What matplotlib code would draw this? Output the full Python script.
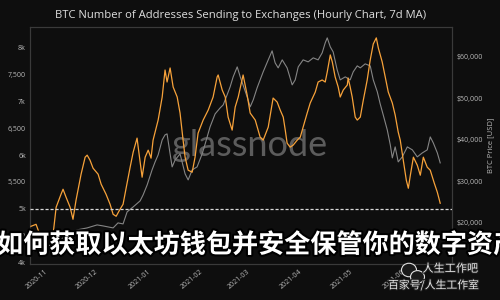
import matplotlib
matplotlib.use("Agg")
import matplotlib.pyplot as plt
import matplotlib.dates as mdates
import matplotlib.patheffects as pe
from matplotlib.patches import Ellipse
from matplotlib.ticker import FuncFormatter, FixedLocator
import pandas as pd

# ---------------- data ----------------
start = pd.Timestamp("2020-11-01")

# days after 2020-11-01, number of addresses sending to exchanges (7d MA)
addr_days = [-10.7, -7.7, -4.7, -1.8, 0.6, 1.8, 4.2, 7.1, 8.3, 10.1, 12.5, 14.2, 16.0, 19.0,
             21.4, 22.6, 24.3, 26.1, 29.1, 30.9, 33.8, 36.2, 38.0, 39.8, 42.1, 43.9, 45.7,
             48.1, 49.9, 52.2, 52.8, 55.2, 57.0, 58.8, 60.5, 61.7, 64.7, 67.1, 68.8, 70.0,
             71.8, 73.6, 76.0, 77.7, 79.5, 80.7, 82.5, 84.9, 86.6, 88.4, 91.4, 94.4, 97.3,
             99.7, 100.3, 102.7, 104.5, 106.2, 108.6, 110.4, 112.2, 115.1, 117.5, 119.3,
             122.3, 125.2, 127.0, 130.0, 132.9, 135.3, 137.1, 138.9, 140.1, 141.2, 143.0,
             144.8, 147.2, 149.0, 150.7, 153.1, 154.9, 157.9, 159.6, 162.0, 163.8, 165.0,
             166.8, 168.0, 169.7, 171.5, 172.7, 174.5, 176.9, 177.4, 178.6, 179.8, 181.6,
             182.8, 184.6, 186.4, 188.7, 190.5, 192.3, 194.1, 195.3, 197.6, 199.4, 201.2,
             203.6, 205.3, 207.1, 208.3, 210.1, 211.9, 213.1, 214.3, 216.1, 218.4, 220.2,
             222.0, 224.3, 226.1, 228.5, 230.3, 232.0]
addr_vals = [4673, 4710, 4449, 4299, 4262, 4355, 5028, 5271, 5364, 5215, 5028, 4804, 5159, 5645,
             5962, 6000, 5906, 5757, 5645, 5458, 5271, 5084, 4897, 4860, 4991, 5084, 5383,
             5776, 6056, 6318, 6168, 5589, 5962, 6093, 5944, 6280, 6654, 7084, 7588, 7364,
             7626, 7271, 7084, 6785, 6280, 5962, 5719, 5682, 5962, 6411, 6654, 6841, 7084,
             7458, 7495, 7215, 7084, 6710, 6467, 6897, 7084, 7495, 7121, 6785,
             6654, 6336, 6280, 6523, 7065, 6990, 6841, 6710, 6467, 6224, 6149,
             6187, 6280, 6336, 6523, 6785, 6972, 7177, 7364, 7402, 7364, 7551,
             7869, 7738, 7458, 7271, 7084, 7215, 7308, 7439, 7271, 7084, 6710,
             6654, 6710, 7028, 7402, 7775, 8074, 8187, 8000, 7738, 7458, 7177,
             6972, 6747, 6430, 6280, 5906, 5533, 5383, 5626, 5962, 5813, 5626,
             5962, 5776, 5719, 5477, 5308, 5103]

# days after 2020-11-01, BTC price in USD
price_days = [-11.3, -2.4, 6.5, 12.5, 16.6, 22.6, 28.5, 32.0, 38.0, 40.9, 43.9, 46.3, 49.9,
              54.0, 55.8, 58.2, 61.1, 62.9, 64.7, 67.1, 68.8, 70.0, 71.8, 73.0, 74.8, 77.7,
              80.7, 82.5, 84.9, 87.8, 90.8, 92.6, 95.5, 98.5, 101.5, 103.3, 105.6, 107.4,
              109.2, 111.6, 113.4, 117.5, 119.3, 121.1, 123.4, 127.0, 130.0, 132.3, 134.1,
              135.9, 138.3, 141.2, 144.2, 146.0, 147.8, 150.7, 153.7, 156.7, 159.6, 162.0,
              163.8, 165.0, 166.8, 168.5, 170.9, 172.7, 175.7, 178.6, 180.4, 182.8, 184.6,
              187.5, 190.5, 192.3, 194.7, 196.4, 198.2, 200.6, 202.4, 203.6, 205.3, 207.1,
              209.5, 212.5, 215.5, 218.4, 221.4, 224.3, 226.1, 227.9, 230.3, 232.0]
price_vals = [13011, 13975, 15903, 17590, 18313, 18795, 19518, 19277, 18795, 20000, 19759, 22651, 23856,
              25302, 26748, 29158, 32773, 34701, 36388, 40003, 41208, 41449, 36629, 33496, 35183, 36629,
              31809, 30363, 32773, 33496, 36629, 39039, 43136, 46269, 47715, 48438, 50848, 52776,
              55186, 57596, 55186, 50366, 47956, 49643, 52535, 56391, 59283, 61452, 58560,
              57355, 59283, 57355, 53258, 54463, 57596, 59283, 58801, 59765, 59283, 60970,
              63380, 64585, 62416, 61211, 56873, 54463, 55186, 54463, 56391, 57837, 57355,
              58319, 57837, 54463, 51571, 48679, 46028, 42413, 38798, 35665, 38316, 34701,
              35906, 38316, 37593, 35906, 36870, 37593, 40726, 39280, 36870, 34460]

ref_level = 5000
month_ticks = ["2020-11", "2020-12", "2021-01", "2021-02", "2021-03", "2021-04", "2021-05", "2021-06"]
left_ticks = [4000, 4500, 5000, 5500, 6000, 6500, 7000, 7500, 8000]
right_ticks = [20000, 30000, 40000, 50000, 60000]

title = "BTC Number of Addresses Sending to Exchanges (Hourly Chart, 7d MA)"
overlay = "如何获取以太坊钱包并安全保管你的数字资产"

# ---------------- style ----------------
BG = "#0e0e0e"
ORANGE = "#f7a23a"
GRAY = "#858585"
TXT = "#b8b8b8"
SPINE = "#3a3a3a"
FONT = ["Open Sans", "DejaVu Sans"]
CJK = ["Noto Sans CJK SC", "DejaVu Sans"]
plt.rcParams["font.family"] = FONT

addr_dates = start + pd.to_timedelta(addr_days, unit="D")
price_dates = start + pd.to_timedelta(price_days, unit="D")

fig = plt.figure(figsize=(5, 3), dpi=100, facecolor=BG)
ax = fig.add_axes([0.06, 0.12, 0.844, 0.79])
ax2 = ax.twinx()
ax.set_zorder(ax2.get_zorder() + 1)
ax.patch.set_visible(False)
ax2.set_facecolor(BG)

ax2.text(0.521, 0.5, "glassnode", transform=ax2.transAxes, ha="center", va="center",
         fontsize=26, color="#5c5c5c", family=["Lato", "DejaVu Sans"], zorder=0)

ax2.plot(price_dates, price_vals, color=GRAY, lw=0.8, zorder=2)
ax.plot(addr_dates, addr_vals, color=ORANGE, lw=0.9, zorder=3)
ax.axhline(ref_level, color="#d8d8d8", lw=0.9, ls=(0, (2.5, 1.5)), zorder=4)

ax.set_xlim(start - pd.Timedelta(days=11.3), start + pd.Timedelta(days=239))
ax.set_ylim(3970, 8390)
ax2.set_ylim(10100, 67200)

ax.yaxis.set_major_locator(FixedLocator(left_ticks))
ax.yaxis.set_major_formatter(FuncFormatter(
    lambda v, p: f"{v/1000:.0f}k" if v % 1000 == 0 else f"{v:,.0f}"))
ax2.yaxis.set_major_locator(FixedLocator(right_ticks))
ax2.yaxis.set_major_formatter(FuncFormatter(lambda v, p: f"${v:,.0f}"))

ax.xaxis.set_major_locator(FixedLocator([mdates.date2num(pd.Timestamp(m + "-01")) for m in month_ticks]))
ax.xaxis.set_major_formatter(mdates.DateFormatter("%Y-%m"))

for a in (ax, ax2):
    a.tick_params(length=0, labelsize=5, labelcolor=TXT, pad=3)
    for s in a.spines.values():
        s.set_color(SPINE)
        s.set_linewidth(0.8)
for lbl in ax.get_xticklabels():
    lbl.set_rotation(40)
    lbl.set_ha("right")

ax2.set_ylabel("BTC Price [USD]", color=TXT, fontsize=5.5, labelpad=3)
fig.text(0.482, 0.947, title, ha="center", va="center", color="#dedede", fontsize=8.1)

# overlay texts
fig.text(-0.006, 0.183, overlay, ha="left", va="center", color="white", fontsize=18.8,
         fontweight="bold", family=CJK, zorder=10,
         path_effects=[pe.withStroke(linewidth=3, foreground="black")])

# WeChat-like icon and account watermark
for (cx, cy, w, h) in [(0.818, 0.1, 0.03, 0.045), (0.835, 0.077, 0.028, 0.042)]:
    fig.patches.append(Ellipse((cx, cy), w, h, transform=fig.transFigure, facecolor="#1a1a1a",
                               edgecolor="#e0e0e0", lw=0.8, zorder=11))
fig.text(0.845, 0.105, "人生工作吧", ha="left", va="center", color="#e8e8e8", fontsize=8,
         family=CJK, zorder=12, path_effects=[pe.withStroke(linewidth=1.5, foreground="#222")])
fig.text(0.776, 0.05, "百家号/人生工作室", ha="left", va="center", color="#e8e8e8", fontsize=7.8,
         family=CJK, zorder=12, path_effects=[pe.withStroke(linewidth=1.5, foreground="#222")])

fig.savefig("out.png", dpi=100, facecolor=BG)
